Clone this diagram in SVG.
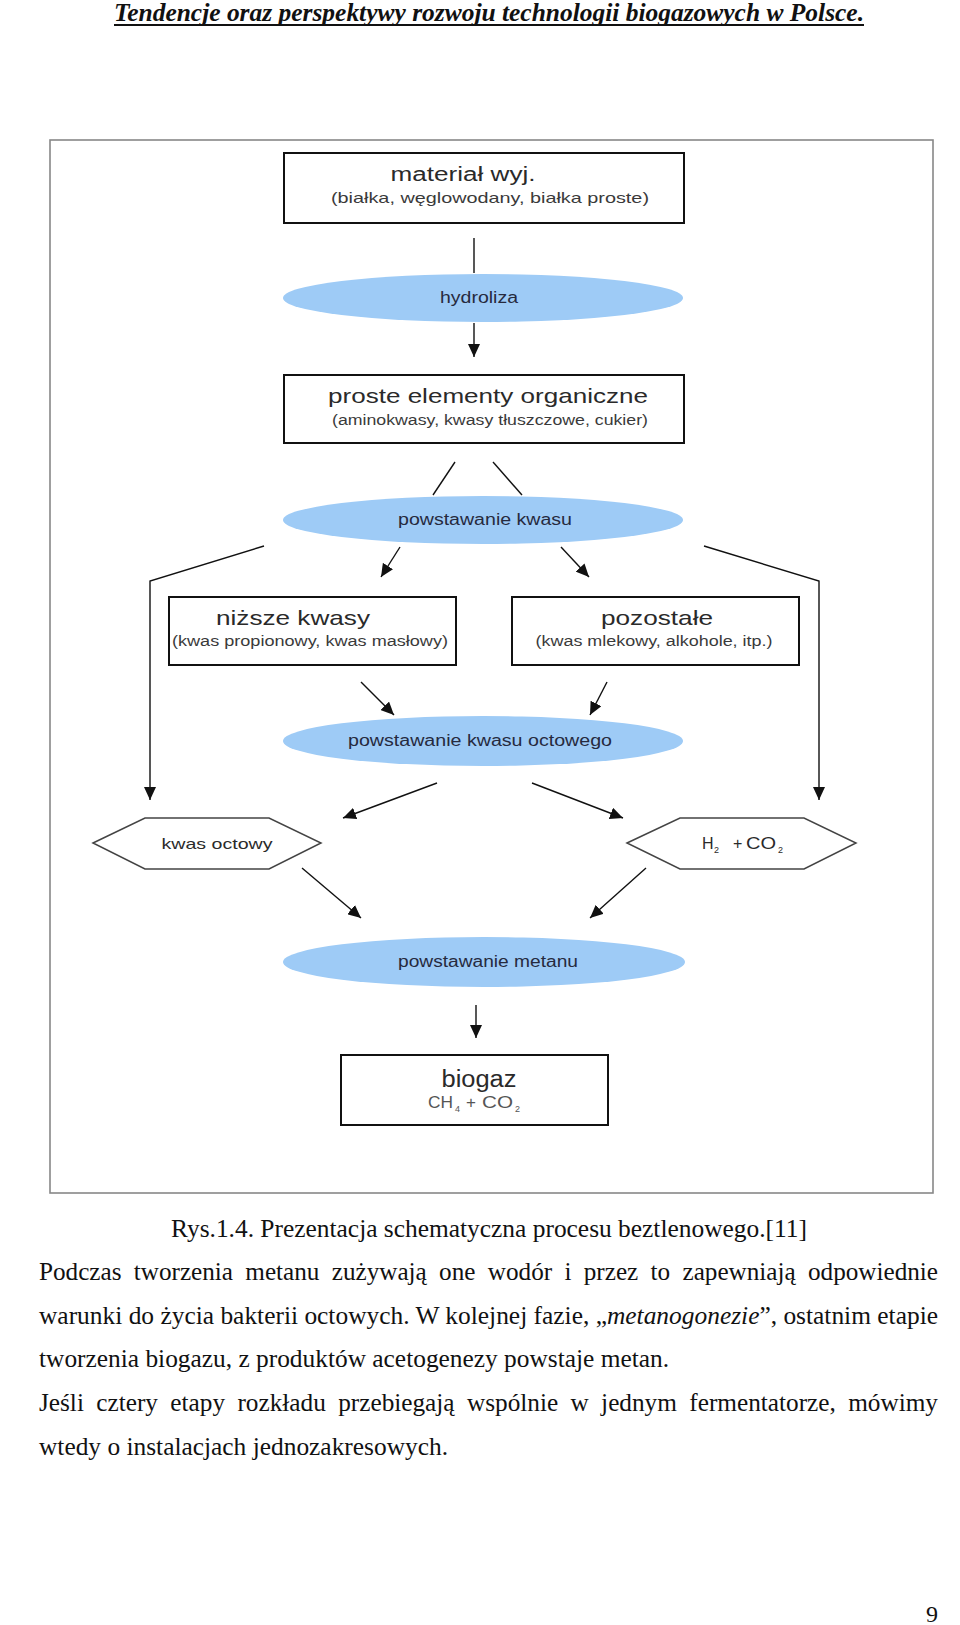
<svg xmlns="http://www.w3.org/2000/svg" width="960" height="1625" viewBox="0 0 960 1625">
<style>
.page{font-family:"Liberation Serif","Times New Roman",serif;fill:#111}
.dia{font-family:"Liberation Sans",Arial,sans-serif;text-anchor:middle}
.box rect{fill:#fff;stroke:#111;stroke-width:2}
.ell ellipse{fill:#9ecbf6;stroke:none}
.ell text{fill:#262a3e;font-size:16px}
.hex polygon{fill:#fff;stroke:#444;stroke-width:1.5}
.t1{fill:#2a2a2a}
.t2{fill:#3a3a3a}
.conn line,.conn polyline{stroke:#111;stroke-width:1.4;fill:none}
</style>
<defs>
<marker id="ah" markerUnits="userSpaceOnUse" markerWidth="13" markerHeight="12" refX="13" refY="6" orient="auto">
<path d="M0,0 L13,6 L0,12 z" fill="#111"/>
</marker>
</defs>
<rect width="960" height="1625" fill="#fff"/>

<!-- header -->
<text class="page" x="114" y="21" font-size="25" font-weight="bold" font-style="italic" textLength="750" lengthAdjust="spacingAndGlyphs">Tendencje oraz perspektywy rozwoju technologii biogazowych w Polsce.</text>
<line x1="114" y1="25" x2="864" y2="25" stroke="#111" stroke-width="2"/>

<!-- figure frame -->
<rect x="50" y="140" width="883" height="1053" fill="#fff" stroke="#888" stroke-width="1.6"/>

<g class="conn">
<line x1="474" y1="238" x2="474" y2="273" stroke="#999"/>
<line x1="474" y1="323" x2="474" y2="357" marker-end="url(#ah)"/>
<line x1="455" y1="462" x2="433" y2="495"/>
<line x1="493" y1="462" x2="522" y2="495"/>
<line x1="400" y1="547" x2="381" y2="577" marker-end="url(#ah)"/>
<line x1="561" y1="547" x2="589" y2="577" marker-end="url(#ah)"/>
<polyline points="264,546 150,581 150,800" marker-end="url(#ah)"/>
<polyline points="704,546 819,581 819,800" marker-end="url(#ah)"/>
<line x1="361" y1="682" x2="394" y2="715" marker-end="url(#ah)"/>
<line x1="607" y1="682" x2="590" y2="715" marker-end="url(#ah)"/>
<line x1="437" y1="783" x2="343" y2="818" marker-end="url(#ah)"/>
<line x1="532" y1="783" x2="623" y2="818" marker-end="url(#ah)"/>
<line x1="302" y1="868" x2="361" y2="918" marker-end="url(#ah)"/>
<line x1="646" y1="868" x2="590" y2="918" marker-end="url(#ah)"/>
<line x1="476" y1="1005" x2="476" y2="1038" marker-end="url(#ah)"/>
</g>

<g id="material" class="box dia">
<rect x="284" y="153" width="400" height="70"/>
<text class="t1" x="463" y="181" font-size="20" textLength="145" lengthAdjust="spacingAndGlyphs">materiał wyj.</text>
<text class="t2" x="490" y="203" font-size="15" textLength="318" lengthAdjust="spacingAndGlyphs">(białka, węglowodany, białka proste)</text>
</g>

<g id="hydroliza" class="ell dia">
<ellipse cx="483" cy="298" rx="200" ry="24"/>
<text x="479" y="303" textLength="78" lengthAdjust="spacingAndGlyphs">hydroliza</text>
</g>

<g id="proste" class="box dia">
<rect x="284" y="375" width="400" height="68"/>
<text class="t1" x="488" y="403" font-size="21" textLength="320" lengthAdjust="spacingAndGlyphs">proste elementy organiczne</text>
<text class="t2" x="490" y="425" font-size="14" textLength="316" lengthAdjust="spacingAndGlyphs">(aminokwasy, kwasy tłuszczowe, cukier)</text>
</g>

<g id="kwasu" class="ell dia">
<ellipse cx="483" cy="520" rx="200" ry="24"/>
<text x="485" y="525" textLength="174" lengthAdjust="spacingAndGlyphs">powstawanie kwasu</text>
</g>

<g id="nizsze" class="box dia">
<rect x="169" y="597" width="287" height="68"/>
<text class="t1" x="293" y="625" font-size="21" textLength="154" lengthAdjust="spacingAndGlyphs">niższe kwasy</text>
<text class="t2" x="310" y="646" font-size="14" textLength="276" lengthAdjust="spacingAndGlyphs">(kwas propionowy, kwas masłowy)</text>
</g>

<g id="pozostale" class="box dia">
<rect x="512" y="597" width="287" height="68"/>
<text class="t1" x="657" y="625" font-size="21" textLength="112" lengthAdjust="spacingAndGlyphs">pozostałe</text>
<text class="t2" x="654" y="646" font-size="14" textLength="237" lengthAdjust="spacingAndGlyphs">(kwas mlekowy, alkohole, itp.)</text>
</g>

<g id="octowego" class="ell dia">
<ellipse cx="483" cy="741" rx="200" ry="25"/>
<text x="480" y="746" textLength="264" lengthAdjust="spacingAndGlyphs">powstawanie kwasu octowego</text>
</g>

<g id="kwasoctowy" class="hex dia">
<polygon points="93,843 145,818 269,818 321,843 269,869 145,869"/>
<text class="t1" x="217" y="849" font-size="15" textLength="111" lengthAdjust="spacingAndGlyphs">kwas octowy</text>
</g>

<g id="h2co2" class="hex dia">
<polygon points="627,843 680,818 804,818 856,843 804,869 680,869"/>
<text class="t1" font-size="16" style="text-anchor:start"><tspan x="702" y="849">H</tspan><tspan x="714" y="853" font-size="9">2</tspan><tspan x="733" y="849">+</tspan><tspan x="746" y="849" textLength="30" lengthAdjust="spacingAndGlyphs">CO</tspan><tspan x="778" y="853" font-size="9">2</tspan></text>
</g>

<g id="metanu" class="ell dia">
<ellipse cx="484" cy="962" rx="201" ry="25"/>
<text x="488" y="967" textLength="180" lengthAdjust="spacingAndGlyphs">powstawanie metanu</text>
</g>

<g id="biogaz" class="box dia">
<rect x="341" y="1055" width="267" height="70"/>
<text class="t1" x="479" y="1087" font-size="23" textLength="75" lengthAdjust="spacingAndGlyphs">biogaz</text>
<text fill="#555" font-size="17" style="text-anchor:start"><tspan x="428" y="1108" textLength="25" lengthAdjust="spacingAndGlyphs">CH</tspan><tspan x="455" y="1112" font-size="9">4</tspan><tspan x="466" y="1108">+</tspan><tspan x="482" y="1108" textLength="31" lengthAdjust="spacingAndGlyphs">CO</tspan><tspan x="515" y="1112" font-size="9">2</tspan></text>
</g>

<!-- caption and body -->
<text class="page" x="171" y="1237" font-size="25" textLength="636" lengthAdjust="spacingAndGlyphs">Rys.1.4. Prezentacja schematyczna procesu beztlenowego.[11]</text>
<text class="page" x="39" y="1280" font-size="25" word-spacing="6" textLength="899" lengthAdjust="spacingAndGlyphs">Podczas tworzenia metanu zużywają one wodór i przez to zapewniają odpowiednie</text>
<text class="page" x="39" y="1324" font-size="25" textLength="899" lengthAdjust="spacingAndGlyphs">warunki do życia bakterii octowych. W kolejnej fazie, „<tspan font-style="italic">metanogonezie</tspan>”, ostatnim etapie</text>
<text class="page" x="39" y="1367" font-size="25" textLength="630" lengthAdjust="spacingAndGlyphs">tworzenia biogazu, z produktów acetogenezy powstaje metan.</text>
<text class="page" x="39" y="1411" font-size="25" word-spacing="6" textLength="899" lengthAdjust="spacingAndGlyphs">Jeśli cztery etapy rozkładu przebiegają wspólnie w jednym fermentatorze, mówimy</text>
<text class="page" x="39" y="1455" font-size="25" textLength="409" lengthAdjust="spacingAndGlyphs">wtedy o instalacjach jednozakresowych.</text>
<text class="page" x="932" y="1622" font-size="24" text-anchor="middle">9</text>
</svg>
